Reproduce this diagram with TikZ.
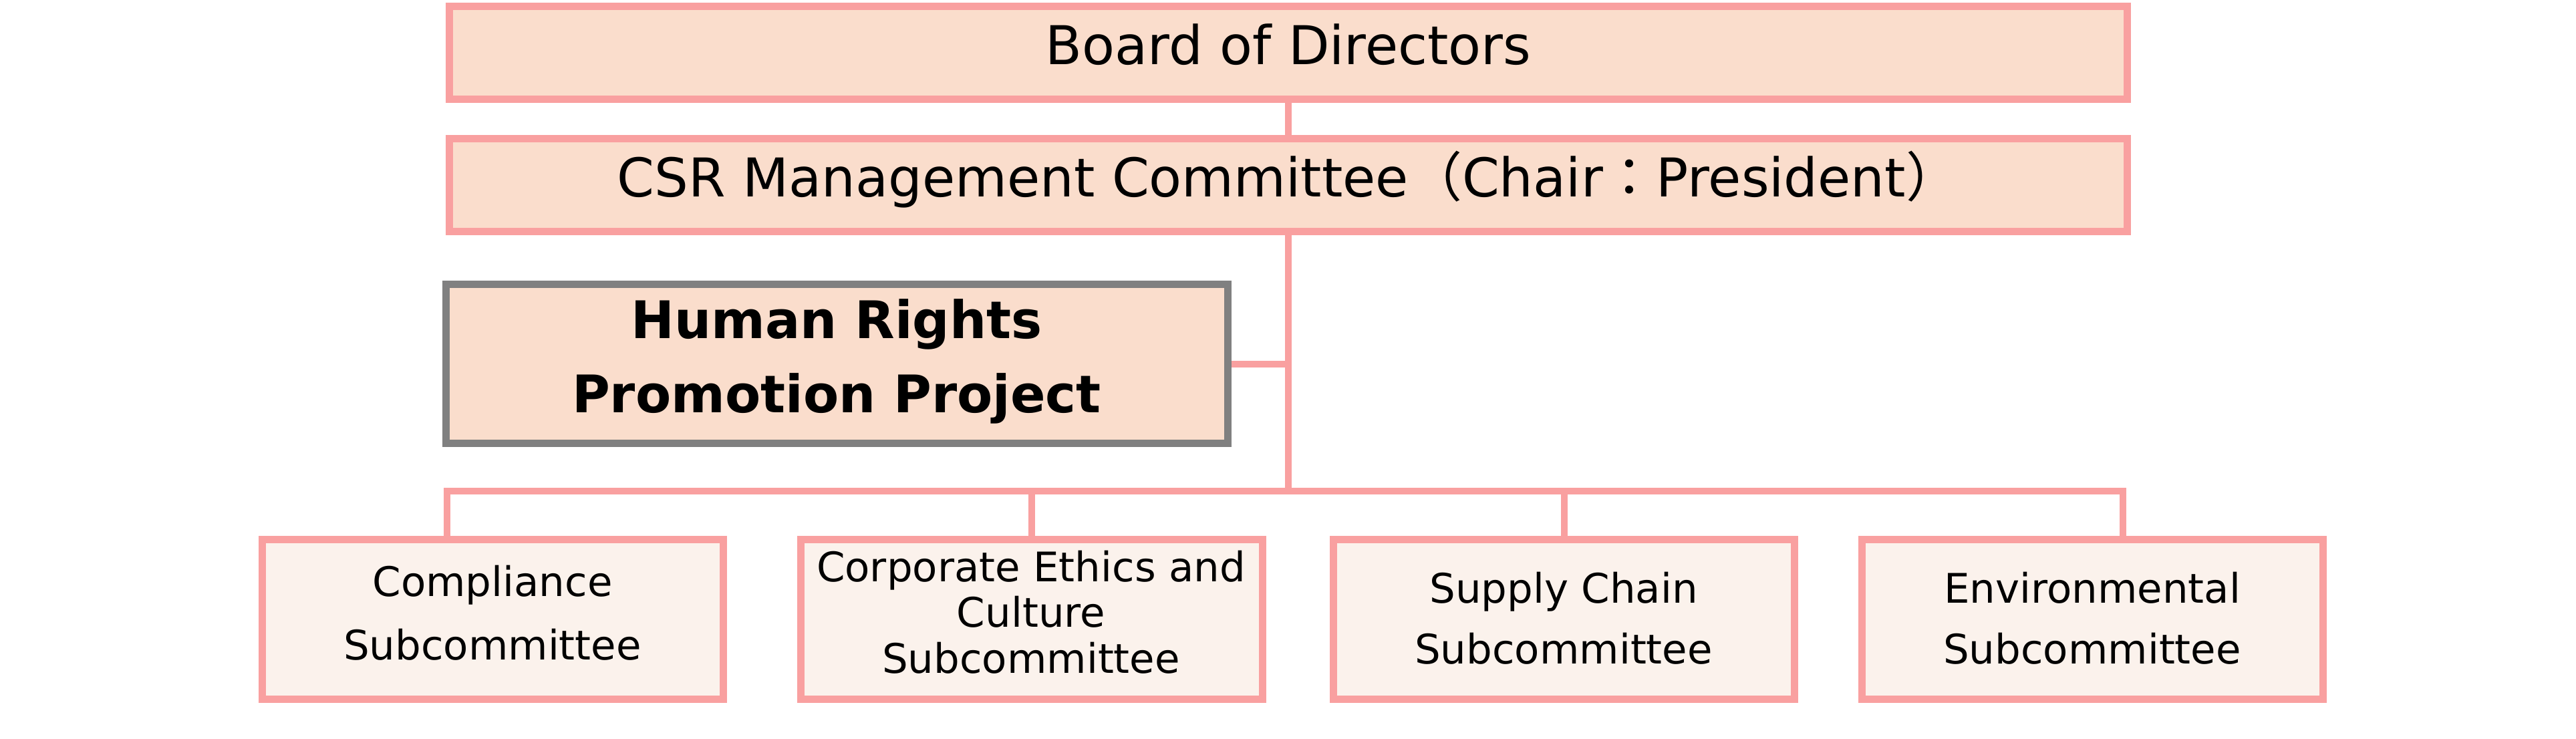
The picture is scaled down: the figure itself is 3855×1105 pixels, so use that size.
\documentclass[tikz,border=0pt]{standalone}
\usepackage{fontspec}
\setmainfont{DejaVu Sans}
\newfontfamily\jpfont{Noto Sans CJK JP}
\definecolor{pinkline}{HTML}{F9A0A0}
\definecolor{peach}{HTML}{FADDCC}
\definecolor{cream}{HTML}{FBF2EC}
\definecolor{greyline}{HTML}{808080}
\newcommand{\mylines}[1]{\begin{tabular}[t]{@{}c@{}}#1\end{tabular}}
\begin{document}
\begin{tikzpicture}[x=0.1bp,y=-0.1bp,
  box/.style={draw=pinkline, line width=1.1bp, inner sep=0pt},
  topbox/.style={box, fill=peach, minimum width=251.1bp, minimum height=13.9bp},
  hrbox/.style={box, draw=greyline, fill=peach, minimum width=117bp, minimum height=23.8bp},
  subbox/.style={box, fill=cream, minimum width=69bp, minimum height=23.9bp},
  conn/.style={draw=pinkline, line width=1bp},
  txt/.style={inner sep=0pt, anchor=base, text=black}]
\useasboundingbox (0,0) rectangle (3855,1105);
% boxes
\node[topbox] (board) at (1928,79) {};
\node[topbox] (csr) at (1928,277) {};
\node[hrbox] (hr) at (1252.5,544.5) {};
\node[subbox] (comp) at (737.5,927) {};
\node[subbox, minimum width=69.1bp] (corp) at (1544,927) {};
\node[subbox] (supply) at (2340.5,927) {};
\node[subbox] (env) at (3131.5,927) {};
% texts
\node[txt, font=\fontsize{8bp}{10bp}\selectfont] (boardT) at (1928,96) {Board of Directors};
\node[txt, font=\fontsize{8bp}{10bp}\selectfont] (csrT) at (1928,294) {CSR Management Committee{\jpfont （}Chair{\jpfont ：}President{\jpfont ）}};
\node[txt, font=\bfseries\fontsize{7.75bp}{11.1bp}\selectfont] (hrT) at (1252,506) {\mylines{Human Rights\\Promotion Project}};
\node[txt, font=\fontsize{6.1bp}{9.5bp}\selectfont] (compT) at (737,892) {\mylines{Compliance\\Subcommittee}};
\node[txt, font=\fontsize{6.1bp}{6.85bp}\selectfont] (corpT) at (1543,870) {\mylines{Corporate Ethics and\\Culture\\Subcommittee}};
\node[txt, font=\fontsize{6.1bp}{9.1bp}\selectfont] (supplyT) at (2340,902) {\mylines{Supply Chain\\Subcommittee}};
\node[txt, font=\fontsize{6.1bp}{9.1bp}\selectfont] (envT) at (3131,902) {\mylines{Environmental\\Subcommittee}};
% connectors
\coordinate (busL) at (669,735);
\coordinate (busR) at (3177,735);
\draw[conn] (board.south) -- (csr.north);
\draw[conn] (csr.south) -- (csr.south |- busL);
\draw[conn] (hr.east) -- (hr.east -| csr.south);
\draw[conn, line join=miter] (comp.north -| busL) -- (busL) -- (busR) -- (env.north -| busR);
\draw[conn] (corp.north) -- (corp.north |- busL);
\draw[conn] (supply.north) -- (supply.north |- busL);
\end{tikzpicture}
\end{document}
